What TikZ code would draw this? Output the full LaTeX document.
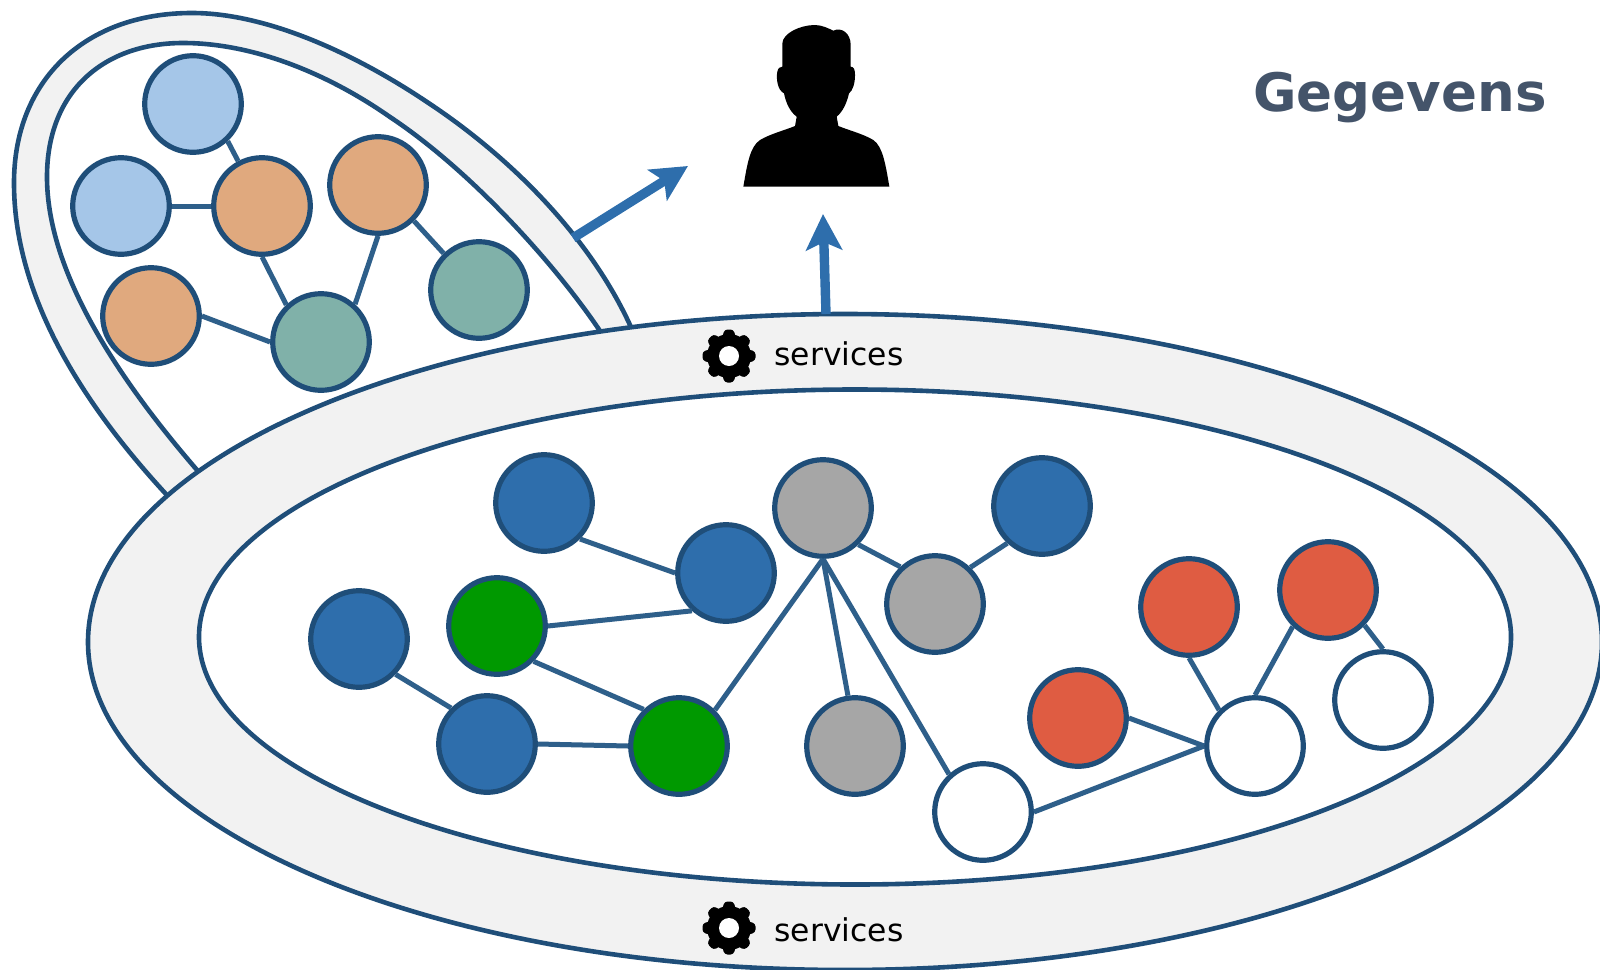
\documentclass[tikz,border=0pt]{standalone}
\usepackage{fontspec}
\setmainfont{DejaVu Sans}
\usetikzlibrary{arrows.meta}
\definecolor{rim}{HTML}{1F4E79}
\definecolor{edgeblue}{HTML}{2E5F8A}
\definecolor{arrowblue}{HTML}{2E6EAC}
\definecolor{ringgray}{HTML}{F2F2F2}
\definecolor{lightblue}{HTML}{A5C6E8}
\definecolor{sand}{HTML}{E0A97E}
\definecolor{teal2}{HTML}{80B1A9}
\definecolor{darkgreen}{HTML}{009900}
\definecolor{midgray}{HTML}{A6A6A6}
\definecolor{brick}{HTML}{DF5C42}
\definecolor{slate}{HTML}{44546A}
\tikzstyle{dot}=[shape=circle,minimum size=48.3pt,inner sep=0,line width=2.6pt,draw=rim]
\tikzstyle{link}=[edgeblue,line width=2.5pt]
\tikzstyle{ring}=[rim,line width=2.3pt,fill=ringgray]
\tikzstyle{hole}=[rim,line width=2.3pt,fill=white]
\tikzstyle{arrow}=[arrowblue,line width=4.7pt,-{Stealth[length=18pt,width=18pt,inset=4pt]}]
\tikzstyle{lab}=[inner sep=0,font=\fontsize{15.7}{18}\selectfont]
\tikzset{gear/.pic={
	\fill[black] (0,0) circle (22);
	\foreach \a in {0,45,...,315}{
		\fill[black,rotate=\a,rounded corners=1.5pt] (-7,18)--(-4.5,26.5)--(4.5,26.5)--(7,18)--cycle;}
	\fill[white] (0,0) circle (10);
}}

\begin{document}
\begin{tikzpicture}[x=.5pt,y=-.5pt]
\useasboundingbox (0,0) rectangle (1600,969);

% small graph at the top
\draw[ring] (180,510)--(165,493) .. controls (75,395) and (14,290) .. (14,183) .. controls (14,80) and (85,13) .. (192,13) .. controls (270,13) and (360,57) .. (427,102) .. controls (512,158) and (590,238) .. (630,325)--(640,345)--cycle;
\draw[hole] (212,488)--(197,470) .. controls (115,375) and (47,270) .. (47,177) .. controls (47,90) and (105,43) .. (183,43) .. controls (255,43) and (330,75) .. (390,117) .. controls (470,170) and (553,262) .. (598,328)--(610,346)--cycle;

\node[dot,fill=lightblue] (sky1) at (193,104) {};
\node[dot,fill=lightblue] (sky2) at (121,206) {};
\node[dot,fill=sand] (sand1) at (262,206) {};
\node[dot,fill=sand] (sand2) at (378,185) {};
\node[dot,fill=sand] (sand3) at (151,316) {};
\node[dot,fill=teal2] (sea1) at (479,290) {};
\node[dot,fill=teal2] (sea2) at (321,342) {};
\draw[link] (sky1.-47)--(sand1.118);
\draw[link] (sky2.east)--(sand1.west);
\draw[link] (sand1.south)--(sea2.133);
\draw[link] (sand2.south)--(sea2.48);
\draw[link] (sand2.-45)--(sea1.134);
\draw[link] (sand3.east)--(sea2.west);

% big ring
\draw[ring] (845,642) ellipse [x radius=757,y radius=328];
\draw[hole] (855,637) ellipse [x radius=656,y radius=247.5];

\foreach \y/\n/\g in {354/top/356,930/bottom/928}{
	\pic at (729,\g) {gear};
	\node[lab] (serv\n) at (839,\y) {services};}

\node[dot,fill=arrowblue] (blue1) at (544,503) {};
\node[dot,fill=arrowblue] (blue2) at (726,573) {};
\node[dot,fill=arrowblue] (blue3) at (359,639) {};
\node[dot,fill=arrowblue] (blue4) at (487,744) {};
\node[dot,fill=arrowblue] (blue5) at (1042,506) {};
\node[dot,fill=darkgreen] (green1) at (497,626) {};
\node[dot,fill=darkgreen] (green2) at (679,746) {};
\node[dot,fill=midgray] (gray1) at (823,508) {};
\node[dot,fill=midgray] (gray2) at (935,604) {};
\node[dot,fill=midgray] (gray3) at (855,746) {};
\node[dot,fill=brick] (red1) at (1189,607) {};
\node[dot,fill=brick] (red2) at (1328,590) {};
\node[dot,fill=brick] (red3) at (1078,718) {};
\node[dot,fill=white] (white1) at (983,812) {};
\node[dot,fill=white] (white2) at (1255,746) {};
\node[dot,fill=white] (white3) at (1383,700) {};

\draw[link] (blue1.-45)--(blue2.west);
\draw[link] (green1.east)--(blue2.228);
\draw[link] (green1.-44)--(green2.134);
\draw[link] (blue3.-44)--(blue4.135);
\draw[link] (blue4.east)--(green2.west);
\draw[link] (green2.45)--(gray1.south);
\draw[link] (gray1.south)--(gray3.98);
\draw[link] (gray1.south)--(white1.132);
\draw[link] (gray1.-46)--(gray2.133);
\draw[link] (gray2.46)--(blue5.227);
\draw[link] (red1.south)--(white2.135);
\draw[link] (red2.226)--(white2.north);
\draw[link] (red2.-44)--(white3.north);
\draw[link] (red3.east)--(white2.west);
\draw[link] (white1.east)--(white2.west);

% person
\begin{scope}[shift={(720,0)},x=.1667pt,y=-.1667pt]
\fill[black] (70,560) .. controls (82,490) and (90,440) .. (120,420) .. controls (150,402) and (190,392) .. (225,378) -- (230,350) .. controls (210,335) and (198,310) .. (192,280) .. controls (172,270) and (168,235) .. (172,215) .. controls (174,204) and (180,200) .. (187,200) -- (187,130) .. controls (188,100) and (240,75) .. (285,75) .. controls (305,75) and (325,85) .. (340,92) .. controls (365,80) and (392,100) .. (392,135) -- (392,200) .. controls (402,200) and (405,210) .. (405,225) .. controls (405,250) and (398,272) .. (387,280) .. controls (380,310) and (368,335) .. (350,350) -- (355,378) .. controls (390,392) and (430,402) .. (460,420) .. controls (488,440) and (496,490) .. (508,560) -- cycle;
\end{scope}
\coordinate (person) at (823,214);
\coordinate (sidetip) at (688,166);
\coordinate (sidefoot) at (573,238);
\coordinate (upfoot) at (826,314);
\draw[arrow] (sidefoot)--(sidetip);
\draw[arrow] (upfoot)--(person);

\node[inner sep=0,text=slate,font=\fontsize{26.5}{30}\selectfont\bfseries] (title) at (1400,98) {Gegevens};
\end{tikzpicture}
\end{document}
